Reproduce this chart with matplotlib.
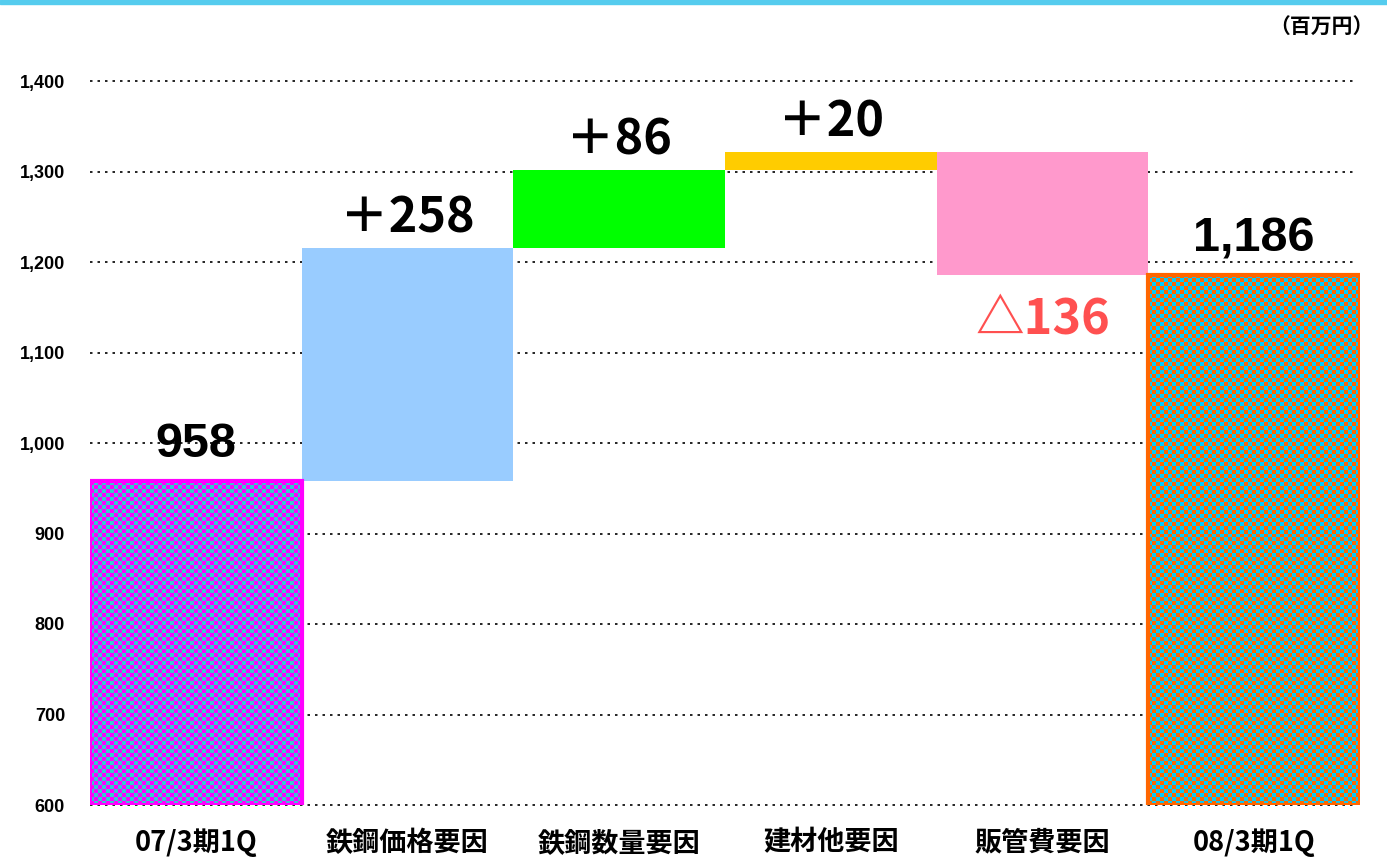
import numpy as np
import matplotlib
matplotlib.use("Agg")
import matplotlib.pyplot as plt
from matplotlib.patches import Rectangle
from matplotlib.colors import ListedColormap

plt.rcParams['font.family'] = ['Noto Sans CJK JP', 'DejaVu Sans']

categories = ["07/3期1Q", "鉄鋼価格要因", "鉄鋼数量要因", "建材他要因", "販管費要因", "08/3期1Q"]
start_value = 958
deltas = [258, 86, 20, -136]
end_value = 1186
labels = ["958", "＋258", "＋86", "＋20", "△136", "1,186"]
delta_colors = ["#99CCFF", "#00FF00", "#FFCC00", "#FF99CC"]
yticks = [600, 700, 800, 900, 1000, 1100, 1200, 1300, 1400]

fig = plt.figure(figsize=(13.87, 8.58), dpi=100)
ax = fig.add_axes([90/1387, 1-805/858, (1360-90)/1387, (805-81)/858])
ax.set_xlim(-0.5, 5.5)
ax.set_ylim(600, 1400)

# top cyan line
fig.patches.append(Rectangle((0, 1-4/858), 1, 4/858, transform=fig.transFigure,
                             color="#55CCEE", zorder=0))

for y in yticks:
    ax.plot([-0.5, 5.47], [y, y], color="black", lw=1.2, ls=(0, (1.5, 3)), zorder=1, clip_on=False)

def checker_bar(x, bottom, top, c1, c2, edge):
    n_x = 53
    n_y = int(round((top - bottom) / 100 * 90.5 / 4))
    grid = (np.add.outer(np.arange(n_y), np.arange(n_x)) % 2)
    cmap = ListedColormap([c1, c2])
    ax.imshow(grid, cmap=cmap, extent=(x - 0.5, x + 0.5, bottom, top),
              aspect="auto", interpolation="nearest", zorder=3)
    ax.add_patch(Rectangle((x - 0.5, bottom), 1.0, top - bottom, facecolor="none",
                           edgecolor=edge, lw=3, zorder=4))

checker_bar(0, 600, start_value, "#FF00FF", "#33CCCC", "#FF00FF")
checker_bar(5, 600, end_value, "#FF6600", "#00CCFF", "#FF6600")
ax.set_xlim(-0.5, 5.5)
ax.set_ylim(600, 1400)

level = start_value
for i, d in enumerate(deltas):
    lo, hi = (level, level + d) if d > 0 else (level + d, level)
    ax.bar(i + 1, hi - lo, bottom=lo, width=1.0, color=delta_colors[i], zorder=3)
    level += d

fs = 35
num_font = ["Liberation Sans", "Noto Sans CJK JP"]
cjk_font = ["Noto Sans CJK JP", "Liberation Sans"]
ax.text(0, start_value + 16, labels[0], ha="center", va="bottom", fontsize=fs,
        fontweight="bold", family=num_font)
level = start_value
for i, d in enumerate(deltas):
    new = level + d
    hi = max(level, new)
    lo = min(level, new)
    if d > 0:
        ax.text(i + 1, hi + 6, labels[i + 1], ha="center", va="bottom", fontsize=fs,
                fontweight="bold", color="black", family=cjk_font)
    else:
        ax.text(i + 1, lo - 22, labels[i + 1], ha="center", va="top", fontsize=fs,
                fontweight="bold", color="#FF5050", family=cjk_font)
    level = new
ax.text(5, end_value + 15, labels[5], ha="center", va="bottom", fontsize=fs,
        fontweight="bold", family=num_font)

ax.set_yticks(yticks)
ax.set_yticklabels([f"{v:,}" for v in yticks], fontsize=13, fontweight="bold",
                   family=["Liberation Sans"])
ax.set_xticks(range(6))
ax.set_xticklabels(categories, fontsize=19.5, fontweight="bold")
ax.tick_params(axis="y", length=0, pad=18)
ax.tick_params(axis="x", length=0, pad=17)
for s in ax.spines.values():
    s.set_visible(False)

fig.text(1374/1387, 1-27/858, "（百万円）", ha="right", va="center", fontsize=15, fontweight="bold")

fig.savefig("out.png", dpi=100)
